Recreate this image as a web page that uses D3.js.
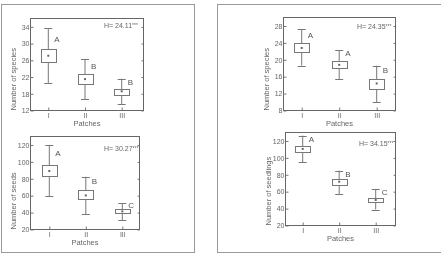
<!DOCTYPE html>
<html>
<head>
<meta charset="utf-8">
<script src="https://cdn.jsdelivr.net/npm/d3@7"></script>
<style>
  body { margin: 0; background: #fff; }
  svg { display: block; font-family: "Liberation Sans", Arial, sans-serif; will-change: transform; }
  .axis text { fill: #666; font-size: 7px; }
  .axis line, .axis path { stroke: #777; }
</style>
</head>
<body>
<svg id="chart" width="441" height="254"></svg>
<script>
// categories
const patches = ["I", "II", "III"];

// box values per patch: [whisker low, q1, median, q3, whisker high]
const speciesLeft   = [[20.5, 25.6, 27.1, 28.6, 33.7], [16.7, 20.4, 21.5, 22.7, 26.2], [15.5, 17.8, 18.6, 19.2, 21.6]];
const seedsLeft     = [[59.5, 82.9, 89.2, 95.9, 120], [37.8, 55.6, 60.3, 66.3, 82.4], [31, 39, 41.4, 43.7, 50.8]];
const speciesRight  = [[18.6, 21.8, 22.8, 23.9, 27.2], [15.4, 18.0, 18.8, 19.6, 22.2], [9.9, 13.2, 14.4, 15.4, 18.6]];
const seedlingsRight = [[95, 107.5, 110.6, 114.6, 126.4], [57.3, 68.2, 71.8, 74.9, 85], [38.8, 47.9, 50.2, 53, 63.2]];

// group letters and where they sit (data units)
const lettersSpeciesLeft = ["A", "B", "B"],   letterYSpeciesLeft = [31, 24.5, 20.8];
const lettersSeedsLeft = ["A", "B", "C"],     letterYSeedsLeft = [110.4, 76.7, 49];
const lettersSpeciesRight = ["A", "A", "B"],  letterYSpeciesRight = [25.9, 21.5, 17.5];
const lettersSeedlingsRight = ["A", "B", "C"], letterYSeedlingsRight = [121.6, 80.4, 59.2];

// Kruskal-Wallis H values
const hValues = ["24.11", "30.27", "24.35", "34.15"];

// y tick values and labels
const ticksSpeciesLeft = [14, 18, 22, 26, 30, 34];
const tickLabelsSpeciesLeft = ["12", "18", "22", "26", "30", "34"];
const ticksSeeds = [20, 40, 60, 80, 100, 120];
const ticksSpeciesRight = [8, 12, 16, 20, 24, 28];

var svg = d3.select("#chart");

// outer frames
svg.append("rect").attr("x", 1.5).attr("y", 4.5).attr("width", 193).attr("height", 248)
  .attr("fill", "none").attr("stroke", "#999");
svg.append("rect").attr("x", 217.5).attr("y", 4.5).attr("width", 240).attr("height", 248)
  .attr("fill", "none").attr("stroke", "#999");

var panels = [
  { box: [30.5, 143.5, 18.5, 110.5], pts: [48.3, 121.7], domain: [14, 36], data: speciesLeft,
    ticks: ticksSpeciesLeft, labels: tickLabelsSpeciesLeft, title: "Number of species",
    letters: lettersSpeciesLeft, letterY: letterYSpeciesLeft, h: hValues[0], hdy: 7.5 },
  { box: [30.5, 139.5, 136.5, 229.5], pts: [49.3, 122.3], domain: [20, 130], data: seedsLeft,
    ticks: ticksSeeds, labels: null, title: "Number of seeds",
    letters: lettersSeedsLeft, letterY: letterYSeedsLeft, h: hValues[1], hdy: 12.5 },
  { box: [283.5, 395.5, 17.5, 110.5], pts: [301.7, 376.7], domain: [8, 30], data: speciesRight,
    ticks: ticksSpeciesRight, labels: null, title: "Number of species",
    letters: lettersSpeciesRight, letterY: letterYSpeciesRight, h: hValues[2], hdy: 9.5 },
  { box: [285.5, 395.5, 132.5, 225.5], pts: [302.7, 375.7], domain: [20, 130], data: seedlingsRight,
    ticks: ticksSeeds, labels: null, title: "Number of seedlings",
    letters: lettersSeedlingsRight, letterY: letterYSeedlingsRight, h: hValues[3], hdy: 11.5 }
];

var boxWidth = 15, capWidth = 8;

panels.forEach(function(p) {
  var x0 = p.box[0], x1 = p.box[1], y0 = p.box[2], y1 = p.box[3];
  var x = d3.scalePoint().domain(patches).range(p.pts);
  var y = d3.scaleLinear().domain(p.domain).range([y1, y0]);
  var g = svg.append("g");

  var yAxis = d3.axisLeft(y).tickValues(p.ticks).tickSizeInner(-3).tickSizeOuter(0).tickPadding(1);
  if (p.labels) yAxis.tickFormat(function(d, i) { return p.labels[i]; });
  g.append("g").attr("class", "axis").attr("transform", "translate(" + x0 + ",0)").call(yAxis)
    .call(function(s) { s.select(".domain").remove(); });

  g.append("g").attr("class", "axis").attr("transform", "translate(" + x1 + ",0)")
    .call(d3.axisRight(y).tickValues(p.ticks).tickSizeInner(-2).tickSizeOuter(0).tickFormat(""))
    .call(function(s) { s.select(".domain").remove(); });

  g.append("g").attr("class", "axis").attr("transform", "translate(0," + y1 + ")")
    .call(d3.axisBottom(x).tickSizeInner(-3).tickSizeOuter(0).tickPadding(3))
    .call(function(s) { s.select(".domain").remove(); });

  // plot frame
  g.append("rect").attr("x", x0).attr("y", y0).attr("width", x1 - x0).attr("height", y1 - y0)
    .attr("fill", "none").attr("stroke", "#666");

  // axis titles
  g.append("text").attr("x", (x0 + x1) / 2).attr("y", y1 + 15.3)
    .attr("text-anchor", "middle").attr("font-size", 7.5).attr("fill", "#666").text("Patches");
  g.append("text").attr("transform", "translate(" + (x0 - 16.8) + "," + y1 + ") rotate(-90)")
    .attr("dy", "0.35em").attr("font-size", 7.5).attr("fill", "#666").text(p.title);

  // boxes
  var b = g.selectAll(".bx").data(p.data).enter().append("g").attr("class", "bx");
  b.append("line")
    .attr("x1", function(d, i) { return x(patches[i]); })
    .attr("x2", function(d, i) { return x(patches[i]); })
    .attr("y1", function(d) { return y(d[0]); })
    .attr("y2", function(d) { return y(d[4]); })
    .attr("stroke", "#777");
  [0, 4].forEach(function(k) {
    b.append("line")
      .attr("x1", function(d, i) { return x(patches[i]) - capWidth / 2; })
      .attr("x2", function(d, i) { return x(patches[i]) + capWidth / 2; })
      .attr("y1", function(d) { return Math.round(y(d[k])) + 0.5; })
      .attr("y2", function(d) { return Math.round(y(d[k])) + 0.5; })
      .attr("stroke", "#777");
  });
  b.append("rect")
    .attr("x", function(d, i) { return Math.round(x(patches[i]) - boxWidth / 2) + 0.5; })
    .attr("y", function(d) { return Math.round(y(d[3])) + 0.5; })
    .attr("width", boxWidth)
    .attr("height", function(d) { return Math.max(Math.round(y(d[1])) - Math.round(y(d[3])), 1); })
    .attr("fill", "#fff").attr("stroke", "#777");
  b.append("rect")
    .attr("x", function(d, i) { return x(patches[i]) - 1; })
    .attr("y", function(d) { return y(d[2]) - 1; })
    .attr("width", 2).attr("height", 2).attr("fill", "#666");

  // letters
  g.selectAll(".lt").data(p.letters).enter().append("text")
    .attr("x", function(d, i) { return x(patches[i]) + 6; })
    .attr("y", function(d, i) { return y(p.letterY[i]); })
    .attr("dy", "0.35em").attr("font-size", 8).attr("fill", "#555").text(function(d) { return d; });

  // H statistic
  var h = g.append("text").attr("x", x0 + 73.5).attr("y", y0 + p.hdy).attr("dy", "0.35em")
    .attr("font-size", 7).attr("fill", "#666");
  h.append("tspan").text("H= " + p.h);
  h.append("tspan").attr("font-size", 5).attr("dy", "-1.5").text("***");
});
</script>
</body>
</html>
